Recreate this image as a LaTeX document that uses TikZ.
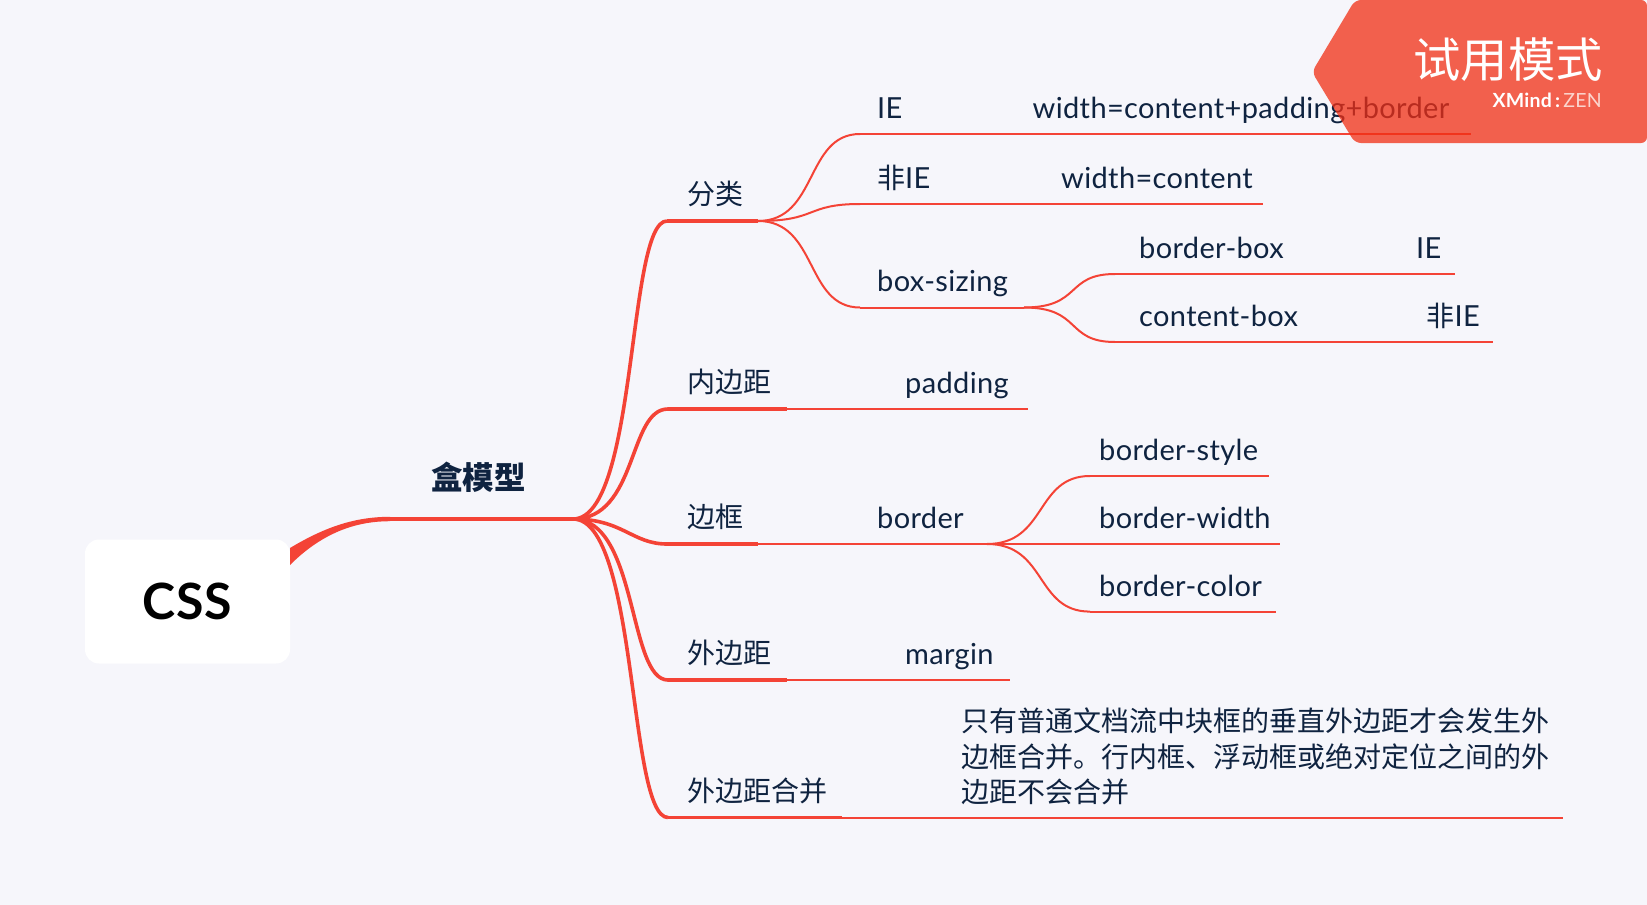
\documentclass[tikz,border=0pt]{standalone}
\usepackage{fontspec}
\setmainfont{Lato}[LetterSpace=1.2]
\newfontfamily\cjk{Noto Sans CJK SC}[Scale=0.9655]
\usetikzlibrary{positioning}
\definecolor{pagebg}{HTML}{F6F6FB}
\definecolor{linered}{HTML}{F44336}
\definecolor{inknavy}{HTML}{0F2340}
\definecolor{bannerred}{HTML}{F12F14}
\definecolor{zenpink}{HTML}{FBD5CE}
\tikzset{%
rootbox/.style={fill=white,rounded corners=14pt,minimum width=205pt,minimum height=124pt,inner sep=0,font=\fontsize{50}{54}\selectfont\bfseries,text=black},
topic/.style={font=\fontsize{29}{34}\selectfont,text=inknavy,inner sep=0,text height=20pt,text depth=6pt},
maintopic/.style={topic,font=\fontsize{32.6}{36}\selectfont\bfseries},
noteblock/.style={font=\fontsize{29}{35.7}\selectfont,text=inknavy,inner sep=0,align=left,text width=620pt},
curved/.style 2 args={to path={.. controls +(#1,0) and +(-#2,0) .. (\tikztotarget)}},
trunk/.style={draw=linered,line width=4.5pt},
branch/.style={draw=linered,line width=3.6pt},
twig/.style={draw=linered,line width=2pt}
}

\begin{document}
\begin{tikzpicture}[x=1pt,y=-1pt]

    \useasboundingbox (0,0) rectangle (1647,905);
    \fill[pagebg] (0,0) rectangle (1647,905);

    \node[rootbox] (css) at (187.5,601.5) {CSS};
    \coordinate (rootup) at (290,548);
    \coordinate (rootlow) at (290,565);
    \coordinate (boxa) at (390,516.8);
    \coordinate (boxb) at (390,521.2);
    \coordinate (hub) at (573,519);

    \fill[linered] (rootup) .. controls (325,527) and (355,516.8) .. (boxa)
                   -- (boxb) .. controls (360,521.2) and (325,530) .. (rootlow) -- cycle;
    \path[trunk] (boxa |- hub) edge (hub);
    \node[maintopic] (boxmodel) [above right=23pt and 41pt of boxa |- hub] {\cjk\bfseries 盒模型};

    \coordinate (sort) at (667,221);
    \coordinate (sortend) at (758,221);
    \coordinate (inner) at (668,409);
    \coordinate (innerend) at (787,409);
    \coordinate (frame) at (667,544);
    \coordinate (frameend) at (758,544);
    \coordinate (outer) at (668,680);
    \coordinate (outerend) at (787,680);
    \coordinate (merge) at (668,817.5);
    \coordinate (mergeend) at (842,817.5);

    \path[branch] (hub) edge[curved={65}{40}] (sort)
                  (hub) edge[curved={65}{40}] (inner)
                  (hub) edge[curved={50}{35}] (frame)
                  (hub) edge[curved={65}{40}] (outer)
                  (hub) edge[curved={65}{40}] (merge);
    \path[branch] (sort) edge (sortend)
                  (inner) edge (innerend)
                  (frame) edge (frameend)
                  (outer) edge (outerend)
                  (merge) edge (mergeend);

    \node[topic] (sortlabel) [above right=10pt and 20pt of sort] {\cjk 分类};
    \node[topic] (innerlabel) [above right=10pt and 19pt of inner] {\cjk 内边距};
    \node[topic] (framelabel) [above right=10pt and 20pt of frame] {\cjk 边框};
    \node[topic] (outerlabel) [above right=10pt and 19pt of outer] {\cjk 外边距};
    \node[topic] (mergelabel) [above right=10pt and 19pt of merge] {\cjk 外边距合并};

    \coordinate (ie) at (860,134);
    \coordinate (ieend) at (1470.5,134);
    \coordinate (notie) at (860,204);
    \coordinate (notieend) at (1262.6,204);
    \coordinate (sizing) at (860,307.5);
    \coordinate (sizingend) at (1024,307.5);

    \path[twig] (sortend) edge[curved={60}{55}] (ie)
                (sortend) edge[curved={60}{55}] (notie)
                (sortend) edge[curved={60}{55}] (sizing);
    \path[twig] (ie) edge (ieend)
                (notie) edge (notieend)
                (sizing) edge (sizingend);

    \node[topic] (ielabel) [above right=9.5pt and 17pt of ie] {IE};
    \node[topic] (iewidth) [above right=9.5pt and 172.5pt of ie] {width=content+padding+border};
    \node[topic] (notielabel) [above right=9.5pt and 17pt of notie] {{\cjk 非}IE};
    \node[topic] (notiewidth) [above right=9.5pt and 201pt of notie] {width=content};
    \node[topic] (sizinglabel) [above right=9.5pt and 17pt of sizing] {box-sizing};

    \coordinate (borderbox) at (1115,274);
    \coordinate (borderboxend) at (1455,274);
    \coordinate (contentbox) at (1115,342);
    \coordinate (contentboxend) at (1492.6,342);

    \path[twig] (sizingend) edge[curved={58}{50}] (borderbox)
                (sizingend) edge[curved={58}{50}] (contentbox);
    \path[twig] (borderbox) edge (borderboxend)
                (contentbox) edge (contentboxend);

    \node[topic] (borderboxlabel) [above right=9.5pt and 24pt of borderbox] {border-box};
    \node[topic] (borderboxie) [above right=9.5pt and 301pt of borderbox] {IE};
    \node[topic] (contentboxlabel) [above right=9.5pt and 24pt of contentbox] {content-box};
    \node[topic] (contentboxie) [above right=9.5pt and 311.5pt of contentbox] {{\cjk 非}IE};

    \coordinate (innerline) at (1028,409);
    \path[twig] (innerend) edge (innerline);
    \node[topic] (paddinglabel) [above right=9.5pt and 118pt of innerend] {padding};

    \coordinate (borderjoin) at (987,544);
    \coordinate (bstyle) at (1090,476);
    \coordinate (bstyleend) at (1269,476);
    \coordinate (bwidthend) at (1280,544);
    \coordinate (bcolor) at (1090,611.6);
    \coordinate (bcolorend) at (1276,611.6);

    \path[twig] (frameend) edge (borderjoin)
                (borderjoin) edge[curved={60}{55}] (bstyle)
                (borderjoin) edge (bwidthend)
                (borderjoin) edge[curved={60}{55}] (bcolor)
                (bstyle) edge (bstyleend)
                (bcolor) edge (bcolorend);

    \node[topic] (bordertext) [above right=9.5pt and 119pt of frameend] {border};
    \node[topic] (bstylelabel) [above right=9.5pt and 9pt of bstyle] {border-style};
    \node[topic] (bwidthlabel) [above right=9.5pt and 112pt of borderjoin] {border-width};
    \node[topic] (bcolorlabel) [above right=9pt and 9pt of bcolor] {border-color};

    \coordinate (outerline) at (1010,680);
    \path[twig] (outerend) edge (outerline);
    \node[topic] (marginlabel) [above right=9.5pt and 118pt of outerend] {margin};

    \coordinate (mergeline) at (1563,817.5);
    \path[twig] (mergeend) edge (mergeline);
    \node[noteblock] (mergenote) [above right=12pt and 119pt of mergeend] {\cjk 只有普通文档流中块框的垂直外边距才会发生外\\边框合并。行内框、浮动框或绝对定位之间的外\\边距不会合并};

    \fill[bannerred,opacity=.75,rounded corners=6pt] (1355,0) -- (1312,72) -- (1355,143) -- (1647,143) -- (1647,0) -- cycle;
    \node[text=white,inner sep=0,anchor=east,font=\fontsize{49}{52}\selectfont] (trial) at (1603,60) {\cjk 试用模式};
    \node[inner sep=0,anchor=east,text=white,font=\fontsize{19.5}{22}\selectfont] (brand) at (1602,100) {\bfseries XMind\,:\textcolor{zenpink}{\mdseries\,ZEN}};

\end{tikzpicture}
\end{document}
